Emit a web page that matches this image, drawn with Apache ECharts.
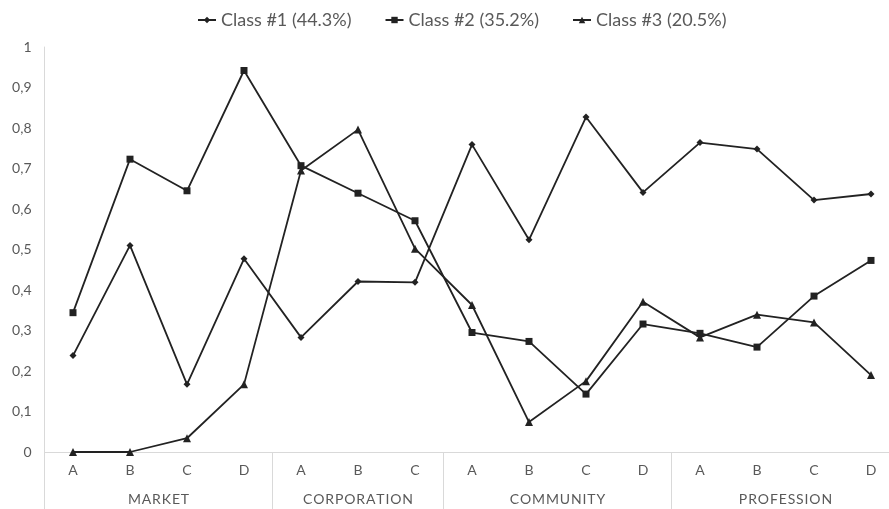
<!DOCTYPE html>
<html>
<head>
<meta charset="utf-8">
<script src="https://cdn.jsdelivr.net/npm/echarts@6/dist/echarts.min.js"></script>
<style>
  html, body { margin: 0; padding: 0; background: #fff; overflow: hidden; }
  #chart { width: 889px; height: 509px; }
</style>
</head>
<body>
<div id="chart"></div>
<script>
// Level labels inside each group, and the groups themselves
const letters = ['A', 'B', 'C', 'D', 'A', 'B', 'C', 'A', 'B', 'C', 'D', 'A', 'B', 'C', 'D'];
const groupNames = ['MARKET', 'CORPORATION', 'COMMUNITY', 'PROFESSION'];
const groupSizes = [4, 3, 4, 4];

// Series names and values
const seriesNames = ['Class #1 (44.3%)', 'Class #2 (35.2%)', 'Class #3 (20.5%)'];
const class1 = [0.238, 0.510, 0.167, 0.477, 0.283, 0.421, 0.419, 0.759, 0.524, 0.827, 0.641, 0.764, 0.748, 0.622, 0.637];
const class2 = [0.344, 0.723, 0.645, 0.942, 0.707, 0.639, 0.571, 0.295, 0.273, 0.143, 0.316, 0.293, 0.259, 0.385, 0.473];
const class3 = [0.000, 0.000, 0.034, 0.167, 0.695, 0.796, 0.502, 0.363, 0.074, 0.175, 0.371, 0.283, 0.339, 0.320, 0.190];

// Group boundaries and centres on a 0..N scale that lines up with the category bands
const boundaries = [0];
const centres = [];
groupSizes.forEach(function (n) {
  const start = boundaries[boundaries.length - 1];
  centres.push(start + n / 2);
  boundaries.push(start + n);
});

const FONT = 'Lato, "Open Sans", sans-serif';
const TEXT = '#595959';
const AXIS = '#d9d9d9';
const LINE = '#222222';

const chart = echarts.init(document.getElementById('chart'), null, { renderer: 'canvas' });

function lineSeries(name, data, symbol, size) {
  return {
    name: name,
    type: 'line',
    xAxisIndex: 0,
    yAxisIndex: 0,
    data: data,
    symbol: symbol,
    symbolSize: size,
    showAllSymbol: true,
    lineStyle: { color: LINE, width: 1.8 },
    itemStyle: { color: LINE, borderColor: LINE, borderWidth: 0 },
    emphasis: { disabled: true }
  };
}

chart.setOption({
  animation: false,
  backgroundColor: '#ffffff',
  textStyle: { fontFamily: FONT },
  legend: {
    top: 6,
    left: 192,
    itemWidth: 18,
    itemHeight: 8,
    itemGap: 33,
    textStyle: { color: TEXT, fontSize: 18, fontFamily: FONT },
    data: seriesNames
  },
  // the plot runs a little past the right edge of the canvas
  grid: {
    left: 44.5,
    width: 855,
    top: 47,
    bottom: 57,
    containLabel: false,
    outerBoundsMode: 'none'
  },
  xAxis: [
    {
      type: 'category',
      data: letters,
      boundaryGap: true,
      position: 'bottom',
      axisLine: { show: true, lineStyle: { color: AXIS, width: 1 } },
      axisTick: { show: false },
      axisLabel: { color: TEXT, fontSize: 14, margin: 11, interval: 0, fontFamily: FONT },
      splitLine: { show: false }
    },
    {
      type: 'value',
      min: 0,
      max: letters.length,
      position: 'bottom',
      axisLine: { show: false },
      axisTick: {
        show: true,
        customValues: boundaries,
        length: 57,
        inside: false,
        lineStyle: { color: AXIS, width: 1 }
      },
      axisLabel: {
        show: true,
        customValues: centres,
        margin: 40,
        color: TEXT,
        fontSize: 14,
        fontFamily: FONT,
        formatter: function (v) {
          const i = centres.findIndex(function (c) { return Math.abs(c - v) < 1e-6; });
          return i >= 0 ? groupNames[i].split('').join('\u200A') : '';
        }
      },
      splitLine: { show: false }
    }
  ],
  yAxis: {
    type: 'value',
    min: 0,
    max: 1,
    interval: 0.1,
    axisLine: { show: true, lineStyle: { color: AXIS, width: 1 } },
    axisTick: { show: false },
    splitLine: { show: false },
    axisLabel: {
      color: TEXT,
      fontSize: 14,
      margin: 13,
      fontFamily: FONT,
      formatter: function (v) { return String(+v.toFixed(1)).replace('.', ','); }
    }
  },
  series: [
    lineSeries(seriesNames[0], class1, 'diamond', 7),
    lineSeries(seriesNames[1], class2, 'rect', 7),
    lineSeries(seriesNames[2], class3, 'triangle', 8)
  ]
});
</script>
</body>
</html>
